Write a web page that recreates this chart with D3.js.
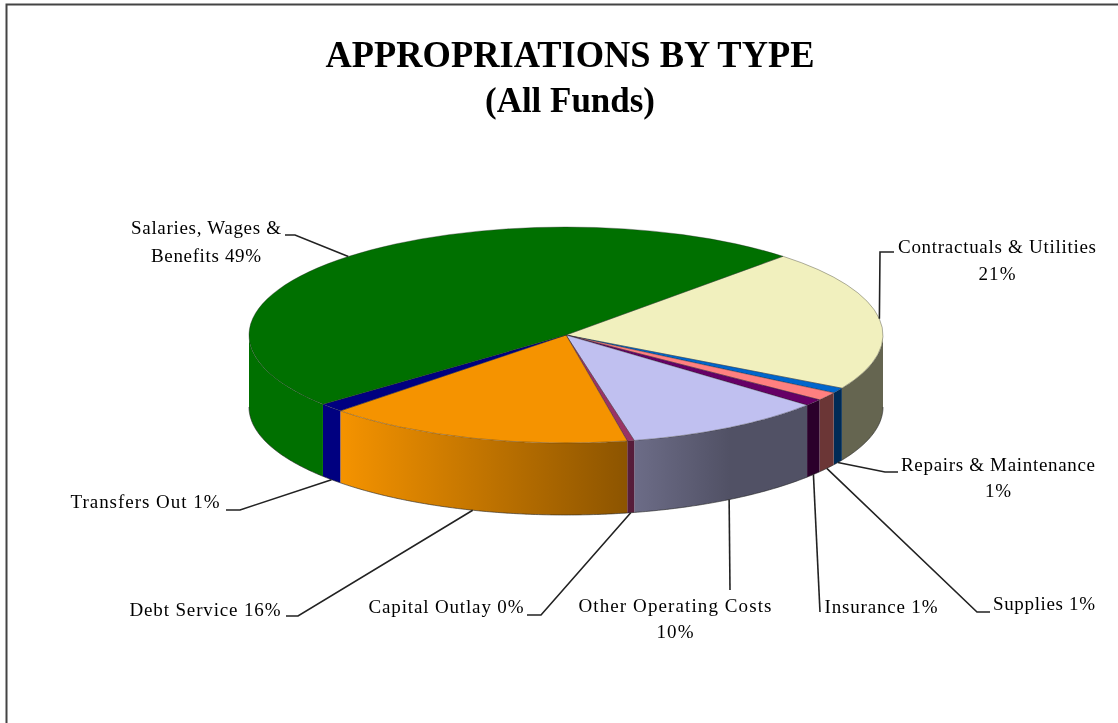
<!DOCTYPE html>
<html>
    <head>
        <meta charset="utf-8">
        <script src="https://cdn.jsdelivr.net/npm/d3@7"></script>
    </head>
    <style>
        html, body { margin: 0; padding: 0; background: #fff; overflow: hidden; }
        svg { display: block; filter: blur(0.45px); }
        text { font-family: "Liberation Serif", serif; fill: #000; }
    </style>
    <body>
        <div id="canvas"></div>
        <script>
            // values (share of the ring, printed labels are rounded)
            const categories = ['Contractuals & Utilities', 'Repairs & Maintenance', 'Supplies', 'Insurance',
                'Other Operating Costs', 'Capital Outlay', 'Debt Service', 'Transfers Out', 'Salaries, Wages & Benefits'];
            const values = [21.2, 0.8, 1.25, 1.0, 10.3, 0.36, 15.7, 1.3, 48.1];
            const percentLabels = ['21%', '1%', '1%', '1%', '10%', '0%', '16%', '1%', '49%'];

            const colors = ['#f1f0be', '#0066cc', '#ff8080', '#660066', '#c0c0f0', '#993366', '#f59300', '#000080', '#007000'];

            // label text lines + where they sit: [text, x, baseline, width]
            const labelLines = [
                [['Contractuals & Utilities', 997, 253, 198], ['21%', 997, 280, 37]],
                [['Repairs & Maintenance', 998, 471, 194], ['1%', 998, 497, 26]],
                [['Supplies 1%', 1044, 610, 102]],
                [['Insurance 1%', 881, 613, 113]],
                [['Other Operating Costs', 675, 612, 193], ['10%', 675, 638, 37]],
                [['Capital Outlay 0%', 446, 613, 155]],
                [['Debt Service 16%', 205, 616, 151]],
                [['Transfers Out 1%', 145, 508, 149]],
                [['Salaries, Wages &', 206, 234, 150], ['Benefits 49%', 206, 262, 110]]
            ];
            // leader elbows after the point on the rim
            const leaderPoints = [
                [[880, 252], [894, 252]],
                [[885, 472], [898, 472]],
                [[977, 612], [990, 612]],
                [[820, 612]],
                [[730, 590]],
                [[541, 615], [527, 615]],
                [[298, 616], [286, 616]],
                [[240, 510], [226, 510]],
                [[295, 235], [285, 235]]
            ];

            const w = 1118;
            const h = 723;
            const cx = 566;
            const cy = 335;
            const rx = 317;
            const ry = 108;
            const depth = 72;
            const startDeg = 43.2;
            const rad = Math.PI / 180;

            const svg = d3.select('#canvas')
                .append('svg')
                .attr('width', w)
                .attr('height', h);

            const xScale = d3.scaleLinear().domain([-1, 1]).range([cx - rx, cx + rx]);
            const yScale = d3.scaleLinear().domain([-1, 1]).range([cy - ry, cy + ry]);

            var rimPoint = function(angle, drop) {
                return [xScale(Math.sin(angle)), yScale(-Math.cos(angle)) + drop];
            };

            const pie = d3.pie()
                .sort(null)
                .startAngle(startDeg * rad)
                .endAngle((startDeg + 360) * rad);
            const slices = pie(values);

            // frame, only left and top are in the picture
            svg.append('path')
                .attr('d', `M6.5,${h} V4.5 H${w}`)
                .attr('fill', 'none')
                .attr('stroke', '#444')
                .attr('stroke-width', 2);

            // Titles
            svg.append('text')
                .text('APPROPRIATIONS BY TYPE')
                .attr('x', 570)
                .attr('y', 67)
                .attr('text-anchor', 'middle')
                .attr('font-size', '38px')
                .attr('font-weight', 'bold')
                .attr('textLength', 489)
                .attr('lengthAdjust', 'spacingAndGlyphs');
            svg.append('text')
                .text('(All Funds)')
                .attr('x', 570)
                .attr('y', 112)
                .attr('text-anchor', 'middle')
                .attr('font-size', '35px')
                .attr('font-weight', 'bold')
                .attr('textLength', 170)
                .attr('lengthAdjust', 'spacingAndGlyphs');

            // side shading runs across the whole pie, left to right
            const defs = svg.append('defs');
            const shadeStart = 340;
            const shadeEnd = 730;
            const shadeAmount = 0.42;

            colors.forEach((c, i) => {
                const rgb = d3.rgb(c);
                const dark = d3.rgb(rgb.r * shadeAmount, rgb.g * shadeAmount, rgb.b * shadeAmount);
                const grad = defs.append('linearGradient')
                    .attr('id', `side${i}`)
                    .attr('gradientUnits', 'userSpaceOnUse')
                    .attr('x1', shadeStart)
                    .attr('x2', shadeEnd)
                    .attr('y1', 0)
                    .attr('y2', 0);
                grad.append('stop').attr('offset', 0).attr('stop-color', rgb.formatHex());
                grad.append('stop').attr('offset', 1).attr('stop-color', dark.formatHex());
            });

            // Side walls, only the part of each slice facing us
            const line = d3.line();
            var sidePath = function(d) {
                const a0 = Math.max(d.startAngle, 90 * rad);
                const a1 = Math.min(d.endAngle, 270 * rad);
                if (a1 <= a0) return null;
                const angles = d3.range(a0, a1, 0.01).concat([a1]);
                const top = angles.map(a => rimPoint(a, 0));
                const bottom = angles.map(a => rimPoint(a, depth)).reverse();
                return line(top.concat(bottom)) + 'Z';
            };

            svg.append('g')
                .selectAll('path')
                .data(slices)
                .enter()
                .append('path')
                .attr('d', sidePath)
                .attr('fill', (d, i) => `url(#side${i})`);

            // bottom rim of the cylinder
            const outlineAngles = d3.range(90, 270.5, 0.5).map(a => a * rad);
            svg.append('path')
                .attr('d', line(outlineAngles.map(a => rimPoint(a, depth))))
                .attr('fill', 'none')
                .attr('stroke', '#222')
                .attr('stroke-width', 0.6);

            // Top faces: plain d3 arcs squashed into an ellipse
            const arc = d3.arc().innerRadius(0).outerRadius(rx);
            svg.append('g')
                .attr('transform', `translate(${cx},${cy}) scale(1,${ry / rx})`)
                .selectAll('path')
                .data(slices)
                .enter()
                .append('path')
                .attr('d', arc)
                .attr('fill', (d, i) => colors[i])
                .attr('stroke', '#222')
                .attr('stroke-opacity', 0.7)
                .attr('stroke-width', 0.5)
                .attr('vector-effect', 'non-scaling-stroke');

            // Leaders start on the rim at each slice's middle angle
            svg.append('g')
                .selectAll('path')
                .data(slices)
                .enter()
                .append('path')
                .attr('d', (d, i) => {
                    const mid = (d.startAngle + d.endAngle) / 2;
                    const front = Math.cos(mid) < 0;
                    return line([rimPoint(mid, front ? depth : 0)].concat(leaderPoints[i]));
                })
                .attr('fill', 'none')
                .attr('stroke', '#222')
                .attr('stroke-width', 1.6);

            // Labels
            svg.append('g')
                .selectAll('text')
                .data(labelLines.flat())
                .enter()
                .append('text')
                .text(d => d[0])
                .attr('x', d => d[1])
                .attr('y', d => d[2])
                .attr('text-anchor', 'middle')
                .attr('font-size', '19px')
                .attr('textLength', d => d[3])
                .attr('lengthAdjust', 'spacing');
        </script>
    </body>
</html>
